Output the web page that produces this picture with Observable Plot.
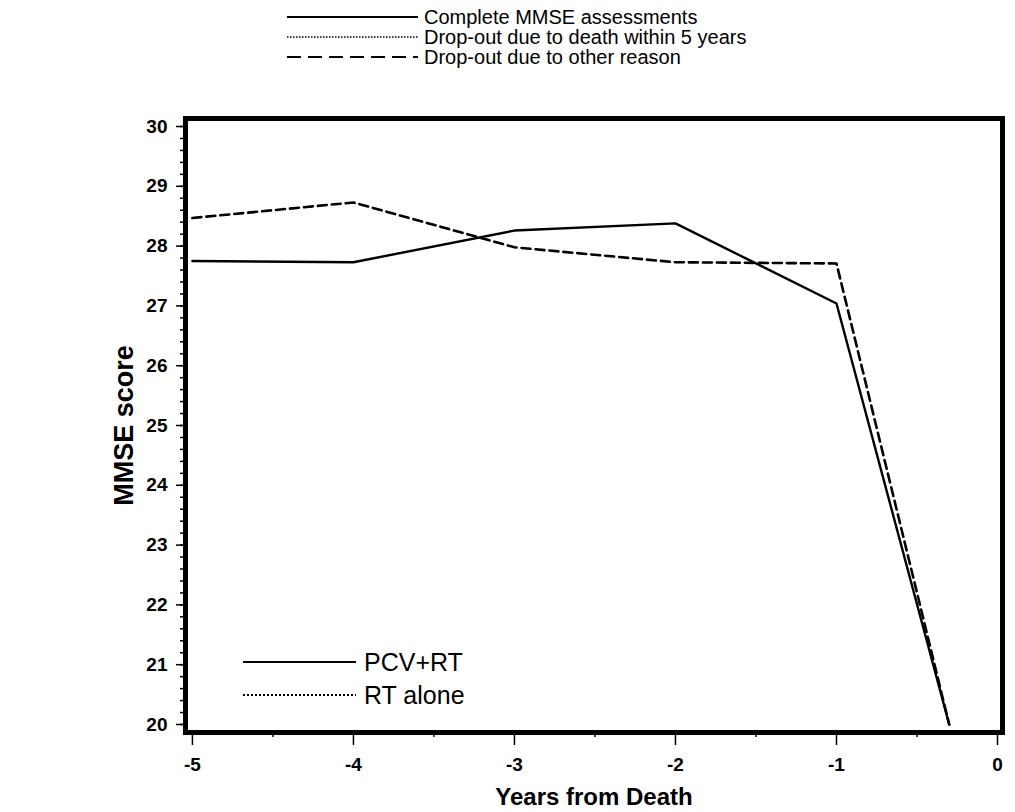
<!DOCTYPE html>
<html>
<head>
<meta charset="utf-8">
<script src="https://cdn.jsdelivr.net/npm/d3@7"></script>
<script src="https://cdn.jsdelivr.net/npm/@observablehq/plot@0.6"></script>
<style>
  html, body { margin: 0; padding: 0; background: #fff; }
  #wrap { position: relative; width: 1015px; height: 812px; font-family: "Liberation Sans", Arial, sans-serif; color: #000; }
  .leg { position: absolute; left: 0; top: 0; }
</style>
</head>
<body>
<div id="wrap"></div>
<script>
// ---- data ----
const years = [-5, -4, -3, -2, -1, -0.3];
const completeAssessments = [27.75, 27.73, 28.26, 28.38, 27.04, 20.0];
const dropoutOtherReason = [28.47, 28.73, 27.98, 27.73, 27.71, 20.0];
const seriesNames = ["Complete MMSE assessments", "Drop-out due to death within 5 years", "Drop-out due to other reason"];
const groupNames = ["PCV+RT", "RT alone"];
const xTicks = [-5, -4, -3, -2, -1, 0];
const xMinorTicks = [-4.5, -3.5, -2.5, -1.5, -0.5];
const yTicks = [20, 21, 22, 23, 24, 25, 26, 27, 28, 29, 30];
const yMinorTicks = d3.range(0, 51).map(i => 20 + i * 0.2);
const xLabel = "Years from Death";
const yLabel = "MMSE score";

const rowsComplete = years.map((x, i) => ({x, y: completeAssessments[i]}));
const rowsOther = years.map((x, i) => ({x, y: dropoutOtherReason[i]}));

const wrap = document.getElementById("wrap");
const FONT = "Liberation Sans, Arial, sans-serif";

// ---- top legend ----
const dashStyles = [null, "1.5,1.5", "14,7"];
const topLeg = d3.select(wrap).append("svg").attr("class", "leg")
  .attr("width", 1015).attr("height", 100).style("top", "0px");
seriesNames.forEach((name, i) => {
  const y = 17 + i * 20;
  topLeg.append("line").attr("x1", 287).attr("x2", 418).attr("y1", y).attr("y2", y)
    .attr("stroke", "#000").attr("stroke-width", i === 1 ? 1.5 : 1.8)
    .attr("stroke-dasharray", dashStyles[i]);
  topLeg.append("text").attr("x", 424).attr("y", y).attr("dy", "0.35em")
    .attr("font-size", 20).attr("font-family", FONT).text(name);
});

// ---- chart ----
const chart = Plot.plot({
  width: 1015,
  height: 712,
  marginLeft: 185,
  marginRight: 13,
  marginTop: 18,
  marginBottom: 80,
  x: {domain: [-5.043, 0.031]},
  y: {domain: [19.866, 30.134]},
  style: {fontFamily: FONT, color: "#000", background: "#fff"},
  marks: [
    Plot.axisY(yMinorTicks, {tickSize: 5, tickFormat: () => "", strokeWidth: 1.5, label: null}),
    Plot.axisY(yTicks, {tickSize: 9, tickPadding: 9, fontSize: 19, fontWeight: "bold", strokeWidth: 1.5, tickFormat: d => String(d), label: null}),
    Plot.axisX(xMinorTicks, {tickSize: 5, tickFormat: () => "", strokeWidth: 1.5, label: null}),
    Plot.axisX(xTicks, {tickSize: 13, tickPadding: 12, fontSize: 19, fontWeight: "bold", strokeWidth: 1.5, tickFormat: d => String(d), label: null}),
    Plot.text([yLabel], {frameAnchor: "left", textAnchor: "middle", dx: -61, rotate: -90, fontSize: 27, fontWeight: "bold", text: d => d}),
    Plot.text([xLabel], {frameAnchor: "bottom", textAnchor: "middle", dy: 72, fontSize: 24, fontWeight: "bold", text: d => d}),
    Plot.line(rowsOther, {x: "x", y: "y", stroke: "#000", strokeWidth: 2.6, strokeDasharray: "9,5"}),
    Plot.line(rowsComplete, {x: "x", y: "y", stroke: "#000", strokeWidth: 2.4}),
    Plot.frame({stroke: "#000", strokeWidth: 5})
  ]
});
chart.style.position = "absolute";
chart.style.left = "0px";
chart.style.top = "100px";
wrap.appendChild(chart);

// ---- inner legend ----
const inLeg = d3.select(wrap).append("svg").attr("class", "leg")
  .style("top", "640px").attr("width", 700).attr("height", 80);
groupNames.forEach((name, i) => {
  const y = 22 + i * 33;
  inLeg.append("line").attr("x1", 243).attr("x2", 356).attr("y1", y).attr("y2", y)
    .attr("stroke", "#000").attr("stroke-width", i === 0 ? 2.2 : 2)
    .attr("stroke-dasharray", i === 0 ? null : "2,2");
  inLeg.append("text").attr("x", 364).attr("y", y).attr("dy", "0.35em")
    .attr("font-size", 25).attr("font-family", FONT).text(name);
});
</script>
</body>
</html>
